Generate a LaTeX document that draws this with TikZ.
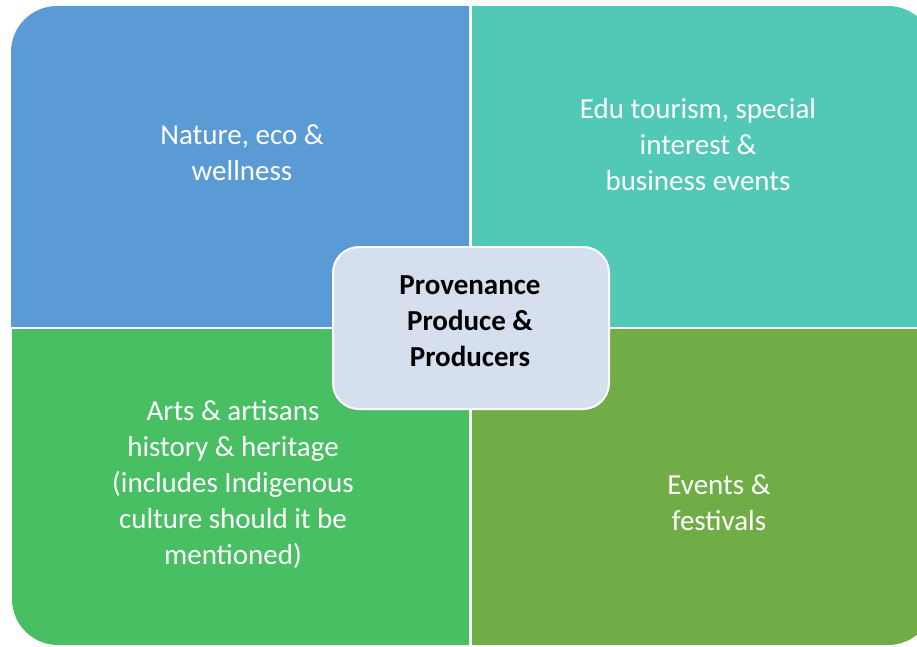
\documentclass[tikz,border=0pt]{standalone}
\usepackage{fontspec}
\setmainfont{Carlito}
\begin{document}
\begin{tikzpicture}[x=1pt,y=-1pt,
  quadtext/.style={text=white,align=center,font=\fontsize{29}{36}\selectfont},
  hubbox/.style={draw=white,line width=2pt,fill=hubfill,rounded corners=26pt,
    minimum width=276pt,minimum height=162pt},
  hubtext/.style={align=center,font=\bfseries\fontsize{29}{36}\selectfont,text=black}]
\definecolor{natureblue}{HTML}{5B9BD5}
\definecolor{eduteal}{HTML}{52C8B7}
\definecolor{artsgreen}{HTML}{49BF63}
\definecolor{eventsgreen}{HTML}{70AD47}
\definecolor{hubfill}{HTML}{D5DFEE}
\useasboundingbox (0,0) rectangle (917,646);
% four quadrants, each with its one outer corner rounded
\begin{scope}
  \clip (11,6) rectangle (469,326);
  \fill[natureblue,rounded corners=46pt] (11,6) rectangle (600,450);
\end{scope}
\begin{scope}
  \clip (472,6) rectangle (934,326);
  \fill[eduteal,rounded corners=46pt] (300,6) rectangle (934,450);
\end{scope}
\begin{scope}
  \clip (12,329) rectangle (469,645);
  \fill[artsgreen,rounded corners=46pt] (12,200) rectangle (600,645);
\end{scope}
\begin{scope}
  \clip (472,329) rectangle (934,645);
  \fill[eventsgreen,rounded corners=46pt] (300,200) rectangle (934,645);
\end{scope}
% quadrant labels
\node[quadtext] (nature) at (242,153) {Nature, eco \&\\wellness};
\node[quadtext] (edu) at (698,145) {Edu tourism, special\\interest \&\\business events};
\node[quadtext] (arts) at (233,484) {Arts \& artisans\\history \& heritage\\(includes Indigenous\\culture should it be\\mentioned)};
\node[quadtext] (events) at (719,503) {Events \&\\festivals};
% central hub
\node[hubbox] (hub) at (471,328) {};
\node[hubtext] (hublabel) at (470,321) {Provenance\\Produce \&\\Producers};
\end{tikzpicture}
\end{document}
